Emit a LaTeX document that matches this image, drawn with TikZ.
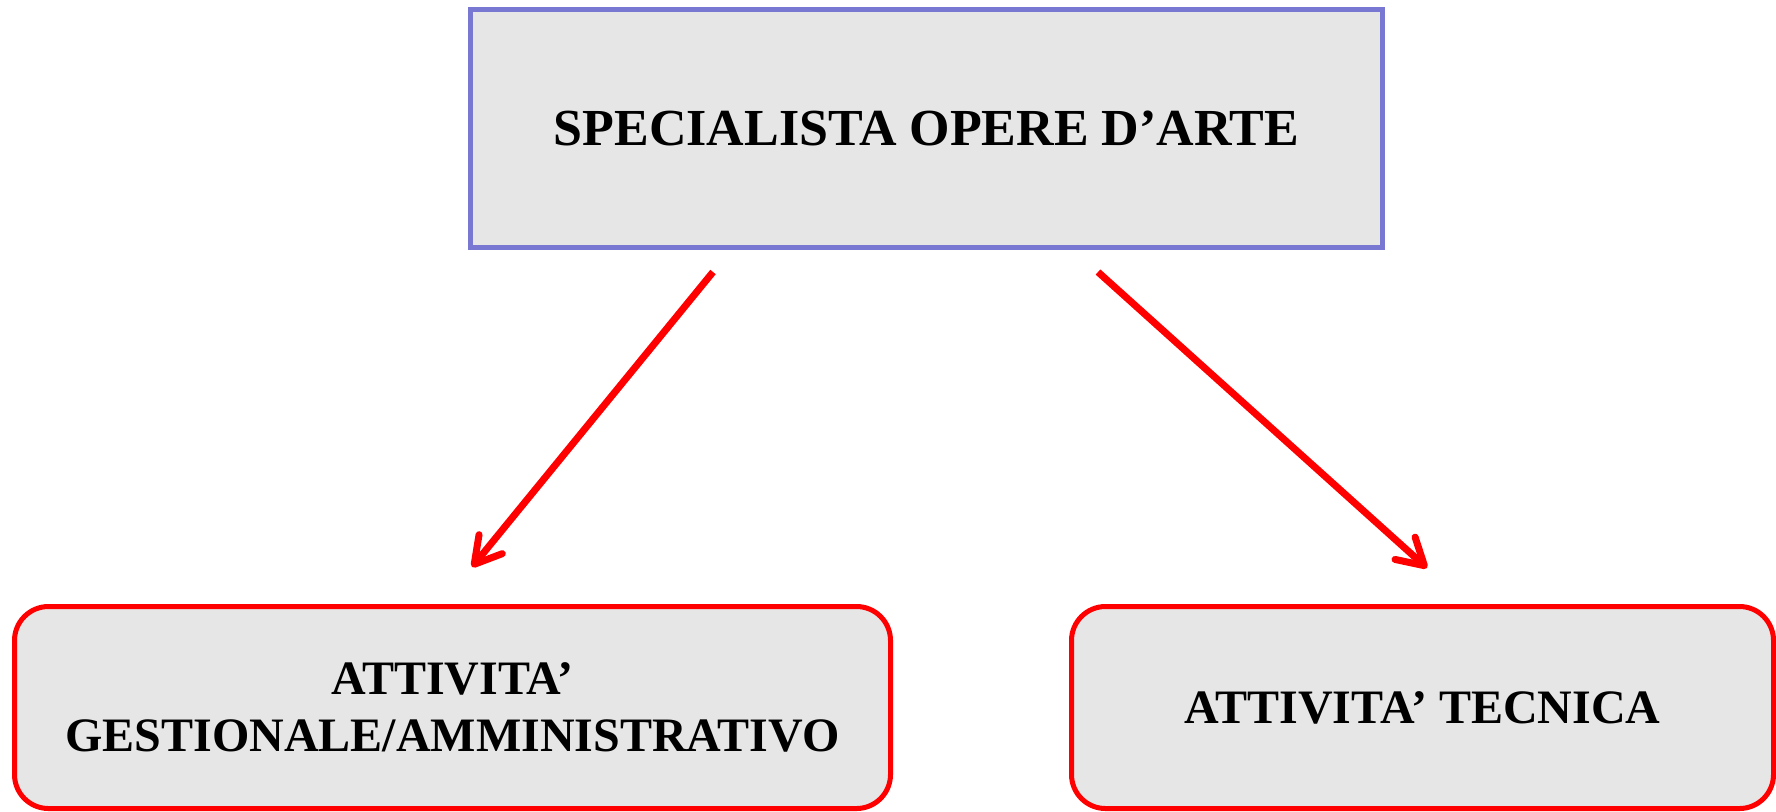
\documentclass[tikz,border=0pt]{standalone}
\usepackage{fontspec}
\setmainfont{Liberation Serif}
\usetikzlibrary{arrows.meta}
\definecolor{headblue}{RGB}{120,120,210}
\definecolor{boxgrey}{RGB}{230,230,230}
\tikzset{
    headbox/.style={rectangle,draw=headblue,fill=boxgrey,line width=2.5pt,minimum width=456pt,minimum height=119pt,font=\fontsize{26}{31}\selectfont\bfseries},
    taskbox/.style={rectangle,rounded corners=17pt,draw=red,fill=boxgrey,line width=2.5pt,minimum height=101pt,align=center,font=\fontsize{24}{28.5}\selectfont\bfseries},
    pre/.style={-{Straight Barb[length=13pt,width=15pt,round]},line width=3.5pt,red}
}
\begin{document}
\begin{tikzpicture}[x=0.5pt,y=-0.5pt]

                \useasboundingbox (0,0) rectangle (1776,811);

                \node[headbox] (specialista) at (926.5,128.5)                    {SPECIALISTA OPERE D’ARTE};

                \node[taskbox,minimum width=438pt] (gestionale) at (452.5,707.5) {ATTIVITA’\\GESTIONALE/AMMINISTRATIVO};
                \node[taskbox,minimum width=351pt] (tecnica) at (1422.5,707.5)   {ATTIVITA’ TECNICA};

                \coordinate (gestionale start) at (713,272);
                \coordinate (gestionale end)   at (472,567);
                \coordinate (tecnica start)    at (1098,272);
                \coordinate (tecnica end)      at (1427,568);

                \draw[pre] (gestionale start) -- (gestionale end);
                \draw[pre] (tecnica start) -- (tecnica end);

            \end{tikzpicture}
\end{document}
